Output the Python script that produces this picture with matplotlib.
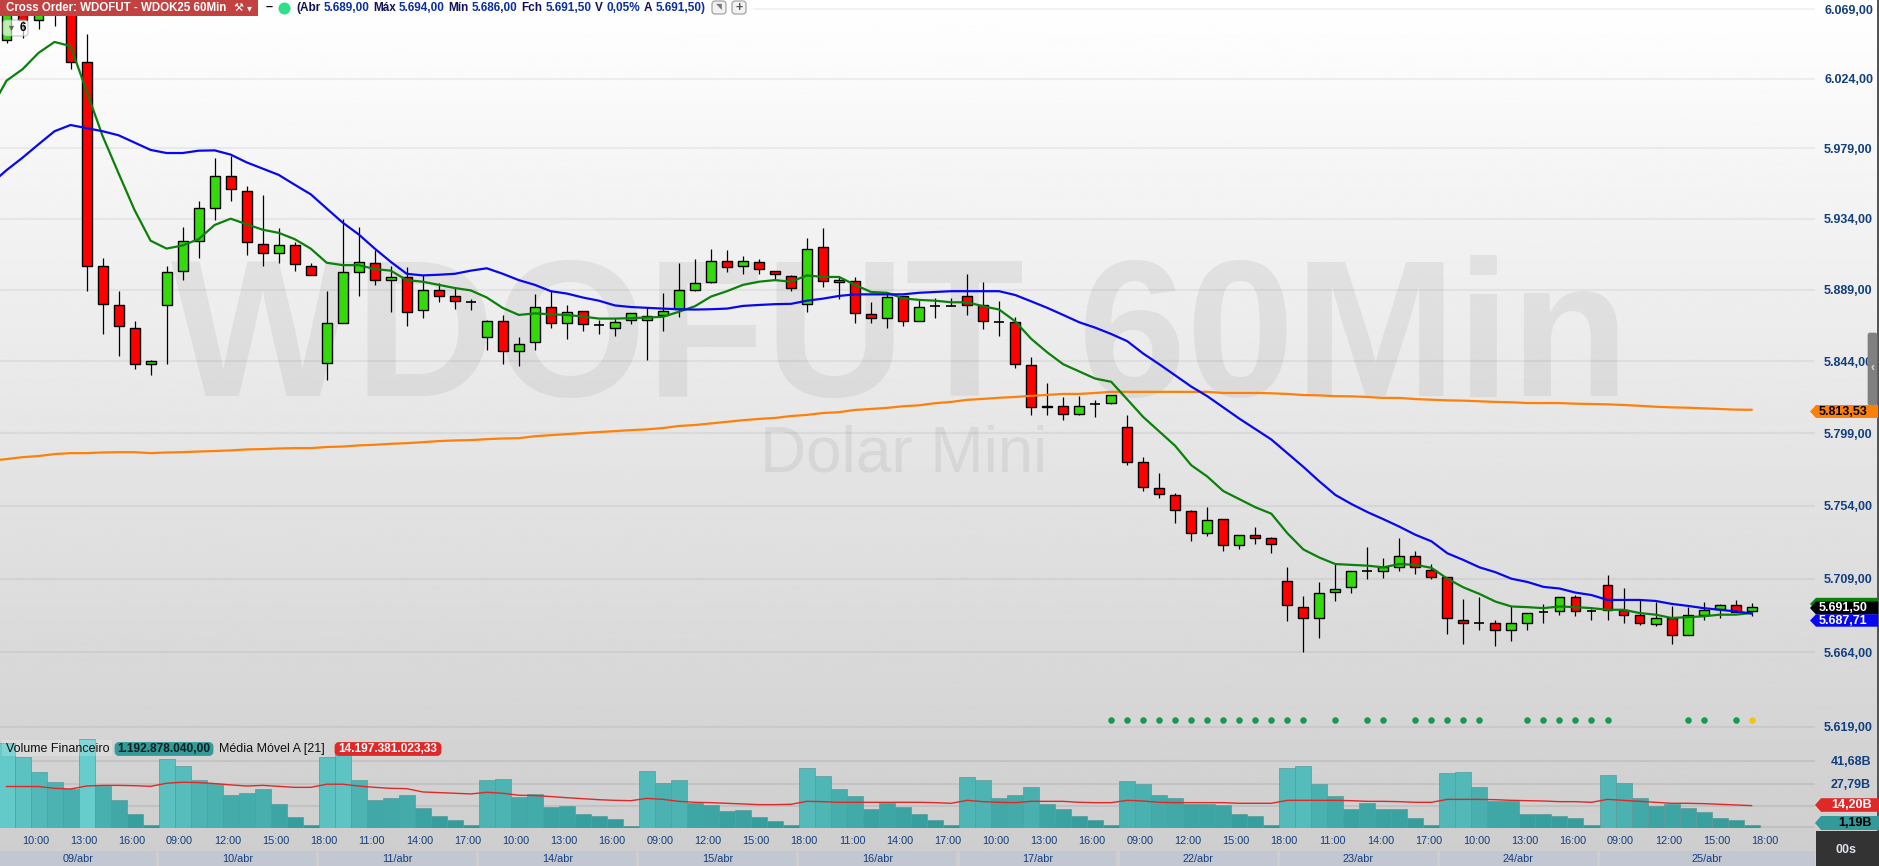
import numpy as np
import matplotlib
matplotlib.use("Agg")
import matplotlib.pyplot as plt
import matplotlib.transforms as mtransforms
from matplotlib.patches import Rectangle, Polygon, FancyBboxPatch

# Candles, index 0 = first bar on the chart
opens = [6049, 6078, 6062, 6084, 6088, 6035, 5904, 5879, 5865, 5842,
         5879, 5901, 5920, 5941, 5961, 5952, 5918, 5912, 5917, 5904,
         5843, 5868, 5900, 5906, 5895, 5897, 5876, 5889, 5885, 5881,
         5859, 5869, 5850, 5856, 5878, 5868, 5875.5, 5866.5, 5865, 5870,
         5870, 5873, 5876.5, 5889, 5894, 5907, 5904, 5906.5, 5901, 5897.5,
         5880, 5916, 5894, 5894.5, 5873.5, 5871, 5885, 5869, 5878.5, 5878.7,
         5885, 5879, 5868.5, 5868.5, 5841.5, 5815, 5816, 5811, 5817, 5817.6,
         5803, 5781, 5765, 5760.5, 5750.5, 5737, 5745.5, 5730, 5736, 5734,
         5707.4, 5691.5, 5685, 5701, 5704, 5714, 5714, 5716, 5723, 5714.5,
         5710, 5684, 5682, 5682, 5677.7, 5682, 5688.5, 5689, 5698, 5689,
         5705, 5690, 5687, 5681.5, 5685, 5674.5, 5687, 5690.4, 5693, 5689]
closes = [6072, 6062, 6075, 6069, 6035, 5904, 5880, 5866, 5842, 5844,
          5900, 5920, 5941, 5961, 5953, 5919, 5912, 5917, 5905, 5898,
          5868, 5900, 5906.5, 5895, 5897, 5875, 5889, 5885, 5882, 5881,
          5869, 5850, 5855, 5878, 5868, 5875, 5867, 5866.5, 5868.5, 5874,
          5872.5, 5875.5, 5889, 5893, 5907, 5903, 5907, 5902, 5899, 5890,
          5915, 5894.5, 5895, 5874, 5871, 5884.5, 5869, 5878, 5878.5, 5878.7,
          5879, 5869, 5868.5, 5842, 5815, 5816, 5811, 5816, 5817, 5823,
          5781, 5765.4, 5761, 5751, 5737, 5745, 5730, 5736, 5734, 5730.6,
          5693, 5685, 5700, 5703, 5714, 5714, 5716, 5723, 5716, 5710,
          5685, 5682, 5682, 5677.7, 5682, 5688, 5688.5, 5698, 5689, 5689,
          5690, 5687, 5682, 5685, 5674.5, 5687, 5690, 5693, 5688.5, 5691.5]
highs = [6080, 6085, 6080, 6090, 6095, 6053, 5909, 5888, 5869, 5844.5,
         5904, 5929, 5945, 5973, 5974, 5955, 5949, 5928, 5919, 5906,
         5888, 5934, 5929, 5914, 5904, 5903, 5898, 5893, 5890, 5883,
         5870, 5873, 5859, 5886, 5888, 5879, 5875.5, 5870, 5871, 5874.5,
         5878, 5887, 5906, 5908.5, 5915, 5914, 5910, 5908.5, 5901, 5898,
         5922, 5928, 5897.5, 5897, 5881, 5887.5, 5885, 5883, 5884, 5884,
         5899, 5894, 5881.5, 5872, 5846.5, 5830, 5821.5, 5822, 5819.7, 5823,
         5810, 5784, 5774, 5762, 5751, 5753, 5746, 5736, 5741, 5734.5,
         5716, 5698.5, 5707, 5718, 5714, 5728.5, 5721.5, 5734, 5726, 5718,
         5710, 5696.6, 5698, 5684, 5692, 5688, 5693.5, 5698, 5699, 5690.5,
         5711, 5703.5, 5696, 5694.6, 5692, 5691.6, 5695, 5693.5, 5696, 5694]
lows = [6047, 6050, 6056, 6058, 6030, 5888, 5861, 5847, 5839, 5835,
        5842, 5895, 5909, 5933, 5945, 5911, 5904, 5906, 5901, 5898,
        5832, 5868, 5885, 5892, 5875, 5866, 5871, 5881, 5877, 5876,
        5851, 5842, 5841, 5851, 5865, 5858, 5863, 5861, 5860, 5867,
        5844.5, 5863, 5871.5, 5888, 5893, 5900, 5899, 5899, 5895, 5888,
        5875, 5890.5, 5883, 5868, 5868, 5865, 5866, 5869, 5871, 5878.7,
        5873, 5864, 5860, 5839.5, 5810.5, 5810.5, 5807, 5810, 5809, 5817,
        5779, 5763, 5759, 5743.5, 5732, 5735, 5726, 5727.5, 5730.6, 5725,
        5683, 5664, 5672.5, 5695.6, 5700, 5709, 5709.5, 5714, 5712, 5709,
        5675, 5669, 5677.5, 5668, 5671, 5677.5, 5682, 5687, 5686, 5684,
        5684, 5682, 5681, 5680, 5669, 5674.5, 5684, 5685, 5688.5, 5686]

# Moving averages, first value sits just left of the visible area (index -1)
ma_green = [6004, 6022.6, 6030, 6040.6, 6047.7, 6045, 6016, 5987, 5963, 5939.5, 5920,
            5915, 5917, 5921, 5930, 5934, 5930.5, 5927, 5925, 5921, 5915,
            5906, 5904.5, 5904.5, 5902, 5901, 5895, 5894, 5892, 5890, 5888.5,
            5884, 5877.4, 5873, 5874, 5873.4, 5873, 5872, 5870.7, 5870.7, 5871,
            5871.4, 5871.8, 5875, 5878.5, 5884.6, 5888, 5892, 5894, 5895, 5894,
            5898, 5897, 5897, 5892, 5887.5, 5887, 5883.5, 5882.5, 5882, 5881,
            5881, 5878.5, 5876.4, 5869, 5858, 5849.5, 5842, 5837.5, 5833, 5831,
            5820, 5809, 5800, 5791, 5779, 5772, 5763, 5758, 5753, 5749,
            5737, 5727, 5722, 5718, 5717.5, 5717, 5716, 5718, 5717.5, 5715.7,
            5709, 5703.7, 5699.7, 5695, 5692, 5691.6, 5691, 5692, 5691.6, 5691,
            5690, 5690, 5688, 5687, 5685, 5685.5, 5686, 5687, 5687, 5688]
ma_blue = [5956, 5965, 5973, 5981.6, 5990, 5994, 5992, 5990, 5987.4, 5982.7, 5978,
           5976, 5976, 5977.5, 5977.7, 5975, 5970, 5966, 5962, 5955.7, 5949.6,
           5940.5, 5931.5, 5924, 5915, 5906.6, 5899, 5898, 5898.4, 5899, 5901,
           5902.5, 5899, 5895, 5892, 5888, 5886.5, 5884, 5882, 5879, 5878,
           5877.5, 5877, 5876.6, 5876.4, 5876.6, 5877, 5878.7, 5879.3, 5879.8, 5880,
           5882, 5883.3, 5885, 5886, 5886, 5886, 5886, 5887, 5887.5, 5888,
           5888, 5888, 5888, 5885.6, 5881.6, 5877.5, 5873, 5868.4, 5865, 5861,
           5856.5, 5848.7, 5842, 5835, 5828, 5822, 5815, 5808, 5801.5, 5795,
           5786.5, 5778, 5769, 5760.6, 5755, 5750, 5745.6, 5741, 5736, 5732,
           5724.6, 5720.5, 5716, 5713, 5709, 5707, 5704, 5703, 5700.5, 5699,
           5696, 5696, 5696, 5695.4, 5693.6, 5692.4, 5691, 5690, 5689, 5687.7]
ma_orange = [5781.8, 5782.8, 5784, 5784.7, 5785.9, 5786.5, 5786.5, 5786.9, 5787.1, 5787.1, 5786.5,
             5786.9, 5787.1, 5787.5, 5787.8, 5788.2, 5788.8, 5789, 5789.4, 5789.6, 5789.6,
             5790.3, 5790.6, 5791.3, 5791.7, 5792.3, 5792.7, 5793.3, 5794, 5794.4, 5794.6,
             5795.2, 5795.6, 5795.8, 5797, 5797.7, 5798.3, 5799, 5799.6, 5800.2, 5800.8,
             5801.3, 5802.1, 5803.4, 5804, 5805, 5806, 5807, 5807.8, 5808.4, 5809.6,
             5810.3, 5811.5, 5812, 5813.4, 5814, 5814.7, 5815.7, 5816.3, 5817.6, 5818.4,
             5819.7, 5820.3, 5821, 5821.5, 5822.2, 5822.8, 5823.4, 5823.4, 5824, 5824.7,
             5824.7, 5824.7, 5824.7, 5824.7, 5824.7, 5824.7, 5824, 5824, 5824, 5823.8,
             5823.4, 5822.7, 5822.5, 5822, 5821.9, 5821.5, 5820.9, 5820.9, 5820.2, 5819.8,
             5819.4, 5819.2, 5818.8, 5818.4, 5818.2, 5817.7, 5817.7, 5817.7, 5817.3, 5817.1,
             5816.9, 5816.5, 5816, 5815.4, 5815, 5814.8, 5814.4, 5814, 5813.6, 5813.5]

# Volume panel, in billions
volume = [52.3, 43.8, 34.7, 28.6, 24.7, 54.7, 26.3, 17.6, 9.1, 2.4,
          42.6, 38.5, 29.8, 27.4, 20.7, 22.1, 24.5, 15.2, 7.3, 2.4,
          43.8, 46.2, 29.8, 17.6, 18.8, 20.7, 12.8, 7.9, 5.5, 2.4,
          29.8, 30.4, 19.5, 21.3, 13.4, 14, 9.1, 7.9, 6.1, 1.8,
          35.2, 27.9, 29.8, 16.2, 14.6, 10.9, 11.5, 7.3, 4.8, 2.4,
          37.1, 32.2, 24.3, 20, 12.1, 15.8, 13.3, 9.1, 5.4, 2.4,
          31.6, 29.8, 18.8, 20.6, 25.5, 15.2, 12.1, 7.9, 5.4, 2.4,
          29.1, 27.3, 20.6, 18.8, 15.2, 15.2, 14.6, 9.1, 7.9, 2.4,
          37, 38.3, 27.3, 20, 12.1, 15.8, 12.1, 12.1, 6.6, 2.4,
          34, 34.6, 25.5, 17, 17, 9.1, 9.1, 7.9, 6.6, 2.4,
          32.8, 27.9, 18.8, 14, 15.2, 12.7, 10.3, 6.6, 5.4, 2.4]
volume_ma = [26, 26, 26, 24.9, 24.5, 26.3, 26.7, 26.7, 26.5, 26.1,
             28, 28.6, 28.4, 27.8, 27, 26.3, 26.7, 26.1, 25.5, 25.5,
             27.4, 27.4, 26.3, 25.5, 24.9, 24.7, 22.7, 22.3, 21.9, 21.5,
             22.5, 21.9, 20.7, 20.5, 19.9, 19.2, 18.6, 18, 17.6, 17.4,
             18.8, 18.2, 17, 16.4, 16.2, 15.8, 15.4, 15, 15, 15.2,
             17, 16.8, 16.4, 16.4, 16.4, 16.4, 16.4, 16.4, 16.2, 15.8,
             17.6, 16.8, 16.4, 16.2, 17, 17, 17, 16.4, 16.2, 16.2,
             17.6, 17.2, 16.4, 16.2, 16.2, 16.2, 16.2, 15.8, 15.8, 15.8,
             17.6, 17.6, 17.6, 17.6, 17.4, 17, 17, 16.8, 16.4, 16.4,
             18.2, 18.2, 18.2, 18, 17.6, 17.4, 17.2, 16.8, 16.8, 16.4,
             18.2, 17.6, 17, 16.4, 15.8, 15.8, 15.6, 15.2, 14.8, 14.4]

# Signal dots under the candles
dot_idx = [69, 70, 71, 72, 73, 74, 75, 76, 77, 78, 79, 80, 81, 83, 85, 86, 88, 89, 90, 91, 92,
           95, 96, 97, 98, 99, 100, 105, 106, 108]
dot_last_idx = 109
dot_price = 5623

price_ticks = [6069, 6024, 5979, 5934, 5889, 5844, 5799, 5754, 5709, 5664, 5619]
price_labels = ["6.069,00", "6.024,00", "5.979,00", "5.934,00", "5.889,00", "5.844,00",
                "5.799,00", "5.754,00", "5.709,00", "5.664,00", "5.619,00"]
vol_ticks = [41.68, 27.79, 14.20, 1.19]
vol_labels = ["41,68B", "27,79B", "", ""]

time_labels = ["10:00", "13:00", "16:00", "09:00", "12:00", "15:00", "18:00", "11:00", "14:00", "17:00",
               "10:00", "13:00", "16:00", "09:00", "12:00", "15:00", "18:00", "11:00", "14:00", "17:00",
               "10:00", "13:00", "16:00", "09:00", "12:00", "15:00", "18:00", "11:00", "14:00", "17:00",
               "10:00", "13:00", "16:00", "09:00", "12:00", "15:00", "18:00"]
day_labels = ["09/abr", "10/abr", "11/abr", "14/abr", "15/abr", "16/abr", "17/abr", "22/abr",
              "23/abr", "24/abr", "25/abr"]
bars_per_day = 10

W, H = 1879, 866
plt.rcParams['font.family'] = ['Liberation Sans', 'DejaVu Sans']
BLUE_TXT = '#123f7e'

opens = np.array(opens)
closes = np.array(closes)
highs = np.array(highs)
lows = np.array(lows)
volume = np.array(volume)
idx = np.arange(len(opens))
ma_idx = np.arange(-1, len(opens))


def ax_px(left, top, right, bottom):
    return [left / W, 1 - bottom / H, (right - left) / W, (bottom - top) / H]


fig = plt.figure(figsize=(W / 100, H / 100), dpi=100)

# Background gradient, white at the top to grey at the bottom
bg = fig.add_axes([0, 0, 1, 1], zorder=0)
bg.imshow(np.linspace(255, 205, 400).reshape(-1, 1), cmap='gray', vmin=0, vmax=255,
          aspect='auto', extent=[0, 1, 0, 1])
bg.axis('off')

x_lim = (-0.406, 112.96)

# Price panel
ax = fig.add_axes(ax_px(0, 0, 1815, 735), zorder=1)
ax.patch.set_alpha(0)
ax.set_yscale('log')
ax.set_xlim(x_lim)
ax.set_ylim(5614, 6075)
ax.set_yticks(price_ticks, price_labels)
ax.minorticks_off()
ax.yaxis.tick_right()
ax.tick_params(axis='y', length=0, pad=6.5, labelsize=9, labelcolor=BLUE_TXT)
for lab in ax.get_yticklabels():
    lab.set_fontweight('bold')
ax.set_xticks([])
for s in ax.spines.values():
    s.set_visible(False)
ax.grid(axis='y', color='black', alpha=0.05, lw=1.5)
ax.set_axisbelow(True)

ax.text(0.496, 0.53, "WDOFUT 60Min", transform=ax.transAxes, ha='center', va='center',
        fontsize=140, fontweight='bold', color='black', alpha=0.06, zorder=0.5)
ax.text(0.498, 0.382, "Dolar Mini", transform=ax.transAxes, ha='center', va='center',
        fontsize=46, color='black', alpha=0.06, zorder=0.5)

up = closes > opens
down = closes < opens
doji = closes == opens
ax.vlines(idx, lows, highs, color='black', lw=0.9, zorder=2)
ax.bar(idx[up], closes[up] - opens[up], bottom=opens[up], width=0.62, color='#36d90e',
       edgecolor='black', lw=1.0, zorder=3)
ax.bar(idx[down], opens[down] - closes[down], bottom=closes[down], width=0.62, color='#ff0000',
       edgecolor='black', lw=1.0, zorder=3)
ax.hlines(opens[doji], idx[doji] - 0.31, idx[doji] + 0.31, color='black', lw=1.2, zorder=3)

ax.plot(ma_idx, ma_orange, color='#ff8008', lw=1.6, zorder=4)
ax.plot(ma_idx, ma_green, color='#0b800b', lw=1.6, zorder=5)
ax.plot(ma_idx, ma_blue, color='#0808f0', lw=1.6, zorder=6)

ax.scatter(dot_idx, [dot_price] * len(dot_idx), s=22, color='#159a50', lw=0, zorder=4)
ax.scatter([dot_last_idx], [dot_price], s=22, color='#f2c40f', lw=0, zorder=4)

# Volume panel
vax = fig.add_axes(ax_px(0, 735, 1815, 828), zorder=1)
vax.patch.set_alpha(0)
vax.set_xlim(x_lim)
vax.set_ylim(0.8, 57.3)
vax.set_yticks(vol_ticks, vol_labels)
vax.yaxis.tick_right()
vax.tick_params(axis='y', length=0, pad=11.5, labelsize=9, labelcolor=BLUE_TXT)
for lab in vax.get_yticklabels():
    lab.set_fontweight('bold')
for s in vax.spines.values():
    s.set_visible(False)
vax.grid(axis='y', color='black', alpha=0.07, lw=1.5)
vax.set_axisbelow(True)

# taller bars are lighter
t = np.clip(volume / 55, 0, 1)[:, None]
bar_colors = (1 - t) * np.array([47, 150, 150]) / 255 + t * np.array([102, 204, 204]) / 255
vax.bar(idx, volume, width=1.0, color=bar_colors, edgecolor='#5c9a9a', lw=0.5, zorder=2)
vax.plot(idx, volume_ma, color='#e02828', lw=1.0, zorder=3)

vax.set_xticks(np.arange(2, 111, 3), time_labels)
vax.tick_params(axis='x', length=0, pad=5.8, labelsize=7.8, labelcolor=BLUE_TXT)
shift = mtransforms.ScaledTranslation(-2.2 / 72, 0, fig.dpi_scale_trans)
for lab in vax.get_xticklabels():
    lab.set_transform(lab.get_transform() + shift)

# Date strip
dax = fig.add_axes(ax_px(0, 851, 1815, 866), zorder=1)
dax.patch.set_alpha(0)
dax.set_xlim(x_lim)
dax.set_ylim(0, 1)
dax.axis('off')
for i, day in enumerate(day_labels):
    left = i * bars_per_day - 0.47
    right = left + 9.8 if i < len(day_labels) - 1 else x_lim[1]
    dax.add_patch(Rectangle((left, 0), right - left, 1, color='#c2c7d2', lw=0))
    center = (max(left, x_lim[0]) + right) / 2
    dax.text(center, 0.47, day, ha='center', va='center', fontsize=7.8, color=BLUE_TXT)

# Everything the platform paints over the chart, in pixel coordinates
top = fig.add_axes([0, 0, 1, 1], zorder=10)
top.patch.set_alpha(0)
top.set_xlim(0, W)
top.set_ylim(H, 0)
top.axis('off')


def tag(x0, x1, yc, half, color, text, text_color='white', text_x=None):
    top.add_patch(Polygon([(x0, yc), (x0 + 6, yc - half), (x1, yc - half), (x1, yc + half), (x0 + 6, yc + half)],
                          closed=True, color=color, lw=0))
    if text:
        top.text(text_x if text_x else x0 + 9, yc + 0.3, text, ha='left', va='center', fontsize=9,
                 fontweight='bold', color=text_color)


def chunks(x, y, parts, size, **kw):
    # lay out coloured pieces of text one after the other
    renderer = fig.canvas.get_renderer()
    inv = top.transData.inverted()
    for s, color in parts:
        t_obj = top.text(x, y, s, ha='left', va='center', fontsize=size, color=color, **kw)
        box = t_obj.get_window_extent(renderer)
        x = inv.transform((box.x1, box.y0))[0] + 3.4


def pill(x0, x1, yc, color, text, text_color):
    top.add_patch(FancyBboxPatch((x0 + 2, yc - 5.5), x1 - x0 - 4, 11, boxstyle='round,pad=0,rounding_size=3',
                                 mutation_aspect=1, fc=color, ec=color, lw=2))
    top.text((x0 + x1) / 2, yc + 0.3, text, ha='center', va='center', fontsize=8.6, color=text_color,
             fontweight='bold')


# Right side: scroll handle, edge, tags, clock
top.add_patch(Rectangle((1877, 0), 2, 832, color='#555555', lw=0))
top.add_patch(FancyBboxPatch((1868, 333), 9, 72, boxstyle='round,pad=0,rounding_size=2', fc='#808080', ec='#808080', lw=0.5))
top.text(1872.5, 368, "‹", ha='center', va='center', fontsize=9, color='#d8d8d8', fontweight='bold')

tag(1810, 1878, 411.5, 6.5, '#ff8008', "5.813,53", 'black', 1819)
tag(1810, 1878, 604, 6.2, '#0b800b', "", 'white')
tag(1810, 1878, 608, 6.5, 'black', "5.691,50", 'white', 1819)
tag(1810, 1878, 620.5, 6.2, '#0808f0', "5.687,71", 'white', 1819)
tag(1815, 1879, 805, 6.8, '#e02828', "14,20B", 'white', 1831)
tag(1815, 1879, 823, 7, '#339999', "1,19B", 'black', 1838)
top.add_patch(Rectangle((1816, 831), 63, 35, color='#333333', lw=0))
top.text(1846, 850, "00s", ha='center', va='center', fontsize=9, fontweight='bold', color='#dde3ee')

# Header
top.add_patch(Rectangle((258, 0), 495, 15.5, color='white', alpha=0.85, lw=0))
top.add_patch(Rectangle((0, 0), 258, 15.7, color='#c24141', lw=0))
top.text(6, 7.8, "Cross Order: WDOFUT - WDOK25 60Min", ha='left', va='center', fontsize=8.3,
         fontweight='bold', color='white')
top.text(233, 7.8, "⚒", ha='left', va='center', fontsize=8, color='white')
top.text(247, 8, "▾", ha='left', va='center', fontsize=7, color='white')
top.text(269, 7, "–", ha='center', va='center', fontsize=9, fontweight='bold', color='black')
top.scatter([284], [8], s=75, color='#2fe08a', lw=0)

chunks(296, 7.8, [("(Abr", '#111155'), ("5.689,00", '#0a2fa0'), ("Máx", '#111155'), ("5.694,00", '#0a2fa0'),
                  ("Mín", '#111155'), ("5.686,00", '#0a2fa0'), ("Fch", '#111155'), ("5.691,50", '#0a2fa0'),
                  ("V", '#111155'), ("0,05%", '#0a2fa0'), ("A", '#111155'), ("5.691,50)", '#0a2fa0')],
       8.5, fontweight='bold')

for bx in (712, 732):
    top.add_patch(FancyBboxPatch((bx, 1), 14, 13, boxstyle='round,pad=0,rounding_size=3', fc='#f2f2f2', ec='#999999', lw=0.8))
top.text(719, 7.5, "◥", ha='center', va='center', fontsize=5.5, color='#777777')
top.text(739, 7.5, "+", ha='center', va='center', fontsize=9, color='#555555', fontweight='bold')

# Badge under the header
top.add_patch(FancyBboxPatch((3, 20), 25, 16, boxstyle='round,pad=0,rounding_size=3', fc='white', alpha=0.65, ec='#aaaaaa', lw=0.8))
top.text(11, 28.5, "▼", ha='center', va='center', fontsize=6.5, color='#666666')
top.text(23, 28, "6", ha='center', va='center', fontsize=8.5, fontweight='bold', color='black')

# Volume legend
top.add_patch(Rectangle((2, 740), 110, 16, color='white', alpha=0.2, lw=0))
top.text(6, 749, "Volume Financeiro", ha='left', va='center', fontsize=9, color='#111111')
pill(114, 214, 749, '#339999', "1.192.878.040,00", '#0b2020')
top.text(219, 749, "Média Móvel A [21]", ha='left', va='center', fontsize=9, color='#111111')
pill(334, 442, 749, '#e02828', "14.197.381.023,33", 'white')

fig.savefig("out.png", dpi=100)
